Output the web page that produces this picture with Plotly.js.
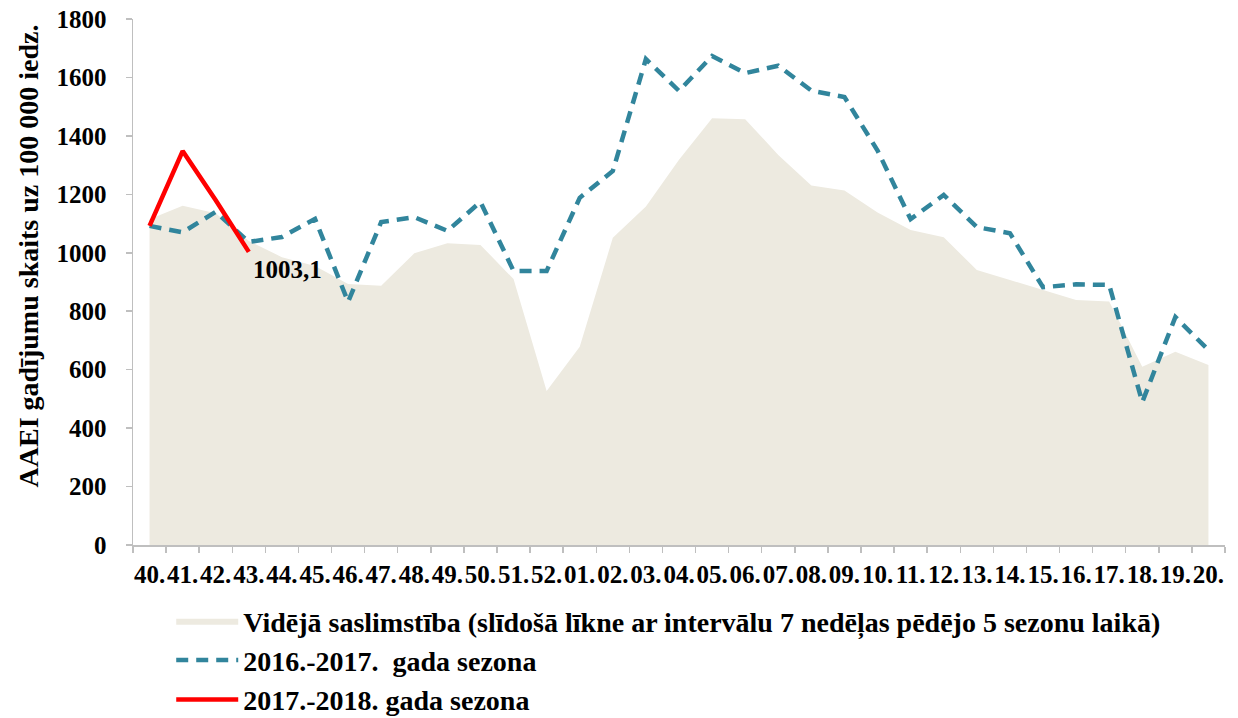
<!DOCTYPE html>
<html>
<head>
<meta charset="utf-8">
<script src="https://cdn.plot.ly/plotly-3.0.1.min.js"></script>
<style>html,body{margin:0;padding:0;background:#fff;}#chart{width:1238px;height:718px;}</style>
</head>
<body>
<div id="chart"></div>
<script>
const weeks = ["40.","41.","42.","43.","44.","45.","46.","47.","48.","49.","50.","51.","52.",
  "01.","02.","03.","04.","05.","06.","07.","08.","09.","10.","11.","12.","13.","14.","15.","16.","17.","18.","19.","20."];
const average = [1115,1161,1135,1040,985,955,893,887,998,1033,1027,910,527,
  678,1051,1158,1318,1460,1457,1335,1230,1213,1138,1078,1053,941,907,873,838,833,610,661,616];
const season1617 = [1092,1070,1140,1037,1054,1116,832,1105,1122,1075,1174,938,938,
  1188,1280,1663,1554,1673,1615,1640,1555,1533,1350,1115,1198,1088,1067,882,892,890,489,780,667];
const weeks1718 = ["40.","41.","42.","43."];
const season1718 = [1092,1348,1180,1003.1];
const lastLabel = "1003,1";
const yTicks = [0,200,400,600,800,1000,1200,1400,1600,1800];

const FONT = "Liberation Serif, Times New Roman, serif";

const traces = [
  {x: weeks, y: average, type: "scatter", mode: "lines", fill: "tozeroy",
   fillcolor: "#EDEAE0", line: {width: 0, color: "#EDEAE0"},
   name: "Vidējā saslimstība (slīdošā līkne ar intervālu 7 nedēļas pēdējo 5 sezonu laikā)"},
  {x: weeks, y: season1617, type: "scatter", mode: "lines",
   line: {color: "#31859C", width: 4.5, dash: "12px,8px"},
   name: "2016.-2017.  gada sezona"},
  {x: weeks1718, y: season1718, type: "scatter", mode: "lines",
   line: {color: "#FF0000", width: 4.5},
   name: "2017.-2018. gada sezona"}
];

const lastIdx = weeks.indexOf(weeks1718[weeks1718.length - 1]);

const layout = {
  width: 1238, height: 718,
  margin: {l: 133, r: 13, t: 19, b: 173},
  paper_bgcolor: "#fff", plot_bgcolor: "#fff",
  font: {family: FONT, color: "#000", weight: "bold"},
  showlegend: true,
  legend: {x: 0.035, xanchor: "left", yref: "container", y: 0.170, yanchor: "top",
    font: {family: FONT, size: 28, color: "#000", weight: "bold"},
    itemwidth: 62, tracegroupgap: 0, bgcolor: "rgba(0,0,0,0)"},
  xaxis: {type: "category", categoryorder: "array", categoryarray: weeks,
    range: [-0.5, 32.5], tickson: "boundaries", ticks: "outside", ticklen: 6,
    tickcolor: "#BFBFBF", tickwidth: 1.5, showline: true, linecolor: "#BFBFBF", linewidth: 1.5,
    showgrid: false, zeroline: false, ticklabelstandoff: 6, tickangle: 0, automargin: false,
    tickfont: {family: FONT, size: 25, color: "#000", weight: "bold"}},
  yaxis: {range: [0, 1800], tickvals: yTicks, ticktext: yTicks.map(String),
    ticks: "outside", ticklen: 6, tickcolor: "#BFBFBF", tickwidth: 1.5, automargin: false,
    showline: true, linecolor: "#BFBFBF", linewidth: 1.5, showgrid: false, zeroline: false,
    ticklabelstandoff: 14,
    tickfont: {family: FONT, size: 25, color: "#000", weight: "bold"}},
  annotations: [
    {x: lastIdx, y: season1718[season1718.length - 1], xref: "x", yref: "y",
     text: lastLabel, showarrow: false, xanchor: "left", yanchor: "middle", xshift: 2, yshift: -18,
     font: {family: FONT, size: 25, color: "#000", weight: "bold"}},
    {x: -0.096, y: 0.549, xref: "paper", yref: "paper", textangle: -90,
     text: "AAEI gadījumu skaits uz 100 000 iedz.", showarrow: false,
     xanchor: "center", yanchor: "middle",
     font: {family: FONT, size: 28, color: "#000", weight: "bold"}}
  ]
};

Plotly.newPlot("chart", traces, layout, {displayModeBar: false, staticPlot: true});
</script>
</body>
</html>
